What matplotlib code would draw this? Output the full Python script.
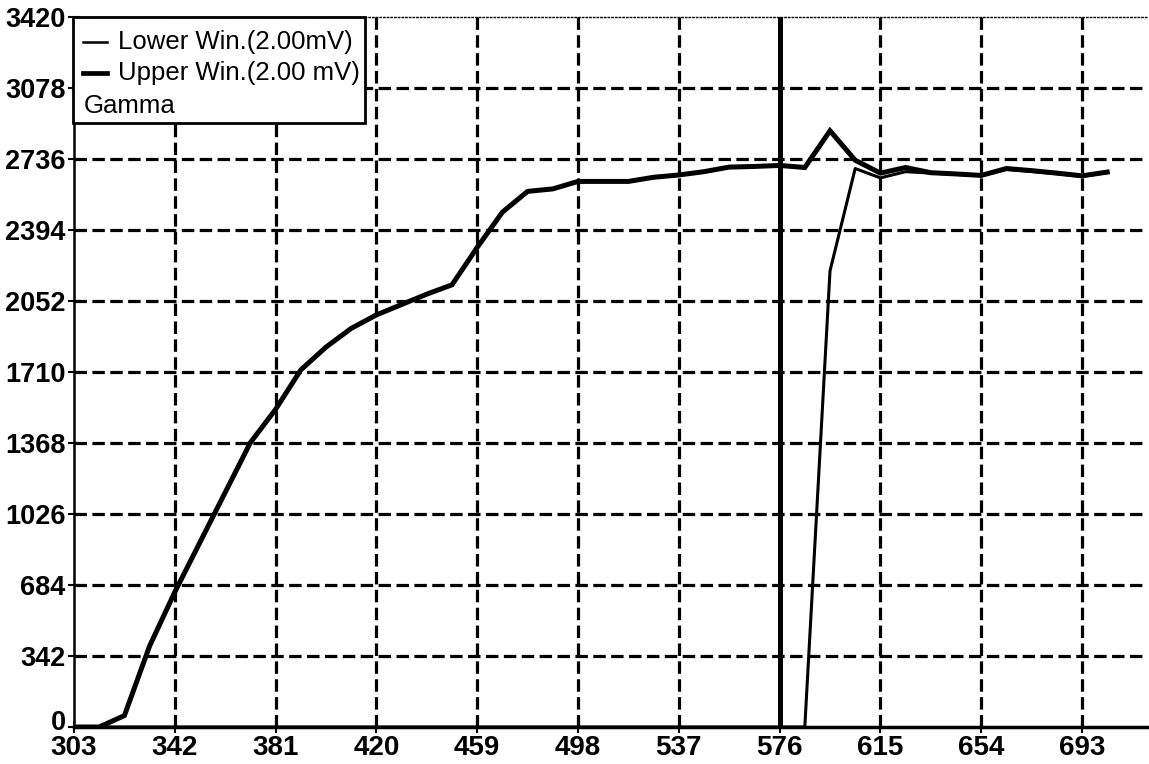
import numpy as np
import matplotlib.pyplot as plt
from matplotlib.patches import Rectangle
from matplotlib.transforms import ScaledTranslation

plt.rcParams['font.family'] = ['Liberation Sans', 'DejaVu Sans']

# channel positions (one sample every 9.75)
x_vals = [303 + 9.75 * i for i in range(42)]

upper_win = [0, 0, 55, 390, 650, 890, 1130, 1370, 1530, 1720,
             1830, 1920, 1985, 2035, 2085, 2130, 2310, 2480, 2580, 2592,
             2628, 2628, 2628, 2648, 2659, 2675, 2697, 2700, 2705, 2695,
             2872, 2730, 2668, 2695, 2670, 2664, 2657, 2690, 2680, 2668,
             2655, 2673]

lower_win = [0] * 30 + [2197, 2690, 2645, 2675, 2668, 2662, 2655, 2686,
                        2676, 2665, 2652, 2670]

x_ticks = [303, 342, 381, 420, 459, 498, 537, 576, 615, 654, 693]
y_ticks = [0, 342, 684, 1026, 1368, 1710, 2052, 2394, 2736, 3078, 3420]
marker_x = 576

legend_labels = ["Lower Win.(2.00mV)", "Upper Win.(2.00 mV)"]
legend_title = "Gamma"

W, H = 1149, 764
L, R, T, B = 74, 1147, 17, 727

fig = plt.figure(figsize=(W / 100, H / 100), dpi=100)
ax = fig.add_axes([L / W, 1 - B / H, (R - L) / W, (B - T) / H])

ax.set_xlim(303, 303 + (R - L) / (100.8 / 39))
ax.set_ylim(0, 3420)

grid_style = dict(color="black", lw=2.3, linestyle=(0, (3.9, 1.7)), zorder=1)
for yv in y_ticks[1:-1]:
    ax.axhline(yv, **grid_style)
for xv in x_ticks[1:]:
    if xv != marker_x:
        ax.axvline(xv, **grid_style)

ax.plot(x_vals, lower_win, color="black", lw=2.2, zorder=3)
ax.plot(x_vals, upper_win, color="black", lw=3.6, zorder=3,
        solid_joinstyle="miter")
ax.axvline(marker_x, color="black", lw=3.6, zorder=4)

ax.set_xticks(x_ticks)
ax.set_yticks(y_ticks)
ax.set_xticklabels([str(v) for v in x_ticks], fontsize=20, fontweight="bold")
ax.set_yticklabels([str(v) for v in y_ticks], fontsize=19.5, fontweight="bold")
ax.tick_params(axis="both", direction="inout", length=8, width=1.5, pad=2)

# lift the "0" label a little, as in the original
zero_lbl = ax.get_yticklabels()[0]
zero_lbl.set_transform(zero_lbl.get_transform()
                       + ScaledTranslation(0, 5 / 72, fig.dpi_scale_trans))

ax.spines["right"].set_visible(False)
ax.spines["top"].set_linestyle(":")
ax.spines["top"].set_linewidth(1.0)
ax.spines["left"].set_linewidth(1.8)
ax.spines["bottom"].set_linewidth(2.5)


# legend box drawn by hand
def fx(px):
    return (px - L) / (R - L)


def fy(py):
    return (B - py) / (B - T)


box = Rectangle((fx(73), fy(123)), fx(365) - fx(73), fy(17) - fy(123),
                transform=ax.transAxes, facecolor="white", edgecolor="black",
                lw=2.0, zorder=6, clip_on=False)
ax.add_patch(box)
for label, lw, py in zip(legend_labels, [1.8, 3.4], [42, 73]):
    ax.plot([fx(83), fx(107)], [fy(py), fy(py)], color="black", lw=lw,
            transform=ax.transAxes, zorder=7, clip_on=False)
    ax.text(fx(118), fy(py), label, transform=ax.transAxes, fontsize=18.5,
            va="center", ha="left", zorder=7)
ax.text(fx(84), fy(106), legend_title, transform=ax.transAxes, fontsize=18.5,
        va="center", ha="left", zorder=7)

plt.savefig("out.png", dpi=100)
